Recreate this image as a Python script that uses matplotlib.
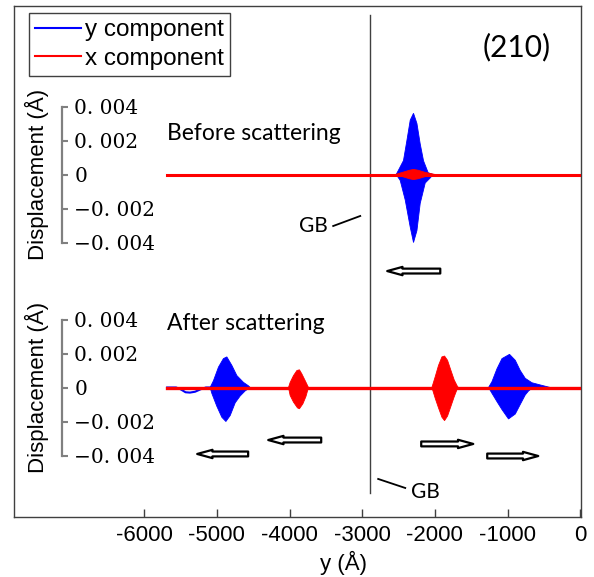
import numpy as np
import matplotlib
matplotlib.use("Agg")
import matplotlib.pyplot as plt
from matplotlib.patches import FancyArrowPatch
from matplotlib.lines import Line2D

plt.rcParams['font.family'] = ['Liberation Sans', 'DejaVu Sans']

# ---- data (y in Angstrom, displacement in Angstrom) ----
x_start, x_end = -5683, -20
gb_pos = -2890

# before scattering: y component packet
top_blue_x = [-2532, -2432, -2385, -2339, -2294, -2247, -2202, -2156, -2092, -2023]
top_blue_up = [0, 0.00082, 0.0020, 0.0032, 0.0036, 0.0030, 0.0018, 0.0008, 0.0001, 0]
top_blue_lo_x = [-2532, -2477, -2408, -2339, -2294, -2247, -2202, -2133, -2064, -2023]
top_blue_lo = [0, -0.00035, -0.0015, -0.0031, -0.0040, -0.0033, -0.0017, -0.0005, -0.0002, 0]
# before scattering: x component packet (small)
top_red_x = [-2546, -2450, -2350, -2294, -2230, -2130, -1995]
top_red_up = [0, 0.00012, 0.00025, 0.0003, 0.00025, 0.00012, 0]

# after scattering: reflected y packet
b1_x = [-5092, -5046, -4977, -4909, -4862, -4793, -4724, -4633, -4565, -4541]
b1_up = [0, 0.0004, 0.0012, 0.0017, 0.0018, 0.0013, 0.0007, 0.0003, 0.0001, 0]
b1_lo_x = [-5092, -5068, -5000, -4931, -4875, -4816, -4747, -4679, -4610, -4541]
b1_lo = [0, -0.00035, -0.0011, -0.00175, -0.0020, -0.00165, -0.0009, -0.0005, -0.0002, 0]
# small blue dip left of it
dip_x = [-5683, -5560, -5500, -5430, -5370, -5300, -5220, -5150, -5092]
dip_y = [0, 0, -0.0001, -0.00028, -0.0003, -0.00025, -0.0001, 0, 0]
# reflected x packet
r1_x = [-4014, -3991, -3945, -3898, -3863, -3830, -3784, -3739]
r1_up = [0, 0.0003, 0.0007, 0.0010, 0.00104, 0.0008, 0.0004, 0]
r1_lo_x = [-4014, -3991, -3945, -3890, -3863, -3816, -3774, -3739]
r1_lo = [0, -0.00047, -0.00086, -0.0012, -0.00125, -0.00096, -0.00053, 0]
# transmitted x packet
r2_x = [-2041, -1995, -1950, -1903, -1867, -1826, -1779, -1734, -1688, -1675]
r2_up = [0, 0.00064, 0.0013, 0.0018, 0.00185, 0.0016, 0.0010, 0.00044, 0.00005, 0]
r2_lo = [0, -0.00064, -0.0012, -0.00175, -0.00195, -0.00168, -0.0011, -0.00054, -0.00003, 0]
# transmitted y packet
b2_x = [-1262, -1215, -1146, -1077, -973, -894, -826, -757, -665, -550, -413]
b2_up = [0, 0.00034, 0.0011, 0.0017, 0.00195, 0.0016, 0.0010, 0.00054, 0.00028, 0.00015, 0]
b2_lo_x = [-1262, -1215, -1146, -1077, -987, -894, -826, -757, -711, -650]
b2_lo = [0, -0.00034, -0.00083, -0.0013, -0.00185, -0.00156, -0.0010, -0.00044, -0.0002, 0]

xticks = [-6000, -5000, -4000, -3000, -2000, -1000, 0]
yticks = [0.004, 0.002, 0, -0.002, -0.004]
ytick_labels = ['0. 004', '0. 002', '0', '\u22120. 002', '\u22120. 004']

BLUE = '#0000ff'
RED = '#ff0000'

W, H = 594, 577
fig = plt.figure(figsize=(W / 100, H / 100), dpi=100)

L, R, T, B = 14, 581, 6, 517
xlim = (-7790, 10)
k = 0.004 / 68  # displacement per pixel


def px_ax(zero_px):
    return ((zero_px - B) * k, (zero_px - T) * k)


main = fig.add_axes([L / W, 1 - B / H, (R - L) / W, (B - T) / H])
main.set_xlim(*xlim)
main.set_ylim(0, 1)
main.set_yticks([])
main.set_xticks(xticks)
main.set_xticklabels([str(t) for t in xticks], fontsize=16)
main.tick_params(axis='x', direction='in', length=6, width=1, color='#404040', pad=6)
for s in main.spines.values():
    s.set_color('#404040')
    s.set_linewidth(1.0)
main.set_xlabel('y (Å)', fontsize=16)
main.xaxis.set_label_coords((343 - L) / (R - L), -(563 - B) / (B - T))
main.xaxis.label.set_va('center')
main.axvline(gb_pos, ymin=(B - 493) / (B - T), ymax=(B - 15) / (B - T), color='#404040', lw=1.0)
main.text(0.886, 0.92, '(210)', transform=main.transAxes, fontsize=21.5, family='Lato',
          ha='center', va='center')


def sub_axes(zero_px):
    ax = fig.add_axes(main.get_position(), label=f'sub{zero_px}')
    ax.patch.set_alpha(0)
    ax.set_xlim(*xlim)
    ax.set_ylim(*px_ax(zero_px))
    for name in ['left', 'top', 'bottom']:
        ax.spines[name].set_visible(False)
    ax.spines['right'].set_position(('axes', (62 - L) / (R - L)))
    ax.spines['right'].set_bounds(-0.004, 0.004)
    ax.spines['right'].set_color('#808080')
    ax.spines['right'].set_linewidth(1.6)
    ax.yaxis.set_ticks_position('right')
    ax.set_yticks(yticks)
    ax.set_yticklabels(ytick_labels, family='DejaVu Serif', fontsize=14.5)
    ax.tick_params(axis='y', direction='out', length=4, width=1.5, color='#808080', pad=5)
    ax.set_xticks([])
    return ax


top = sub_axes(174.5)
bot = sub_axes(387.5)

fig.text(37 / W, 1 - 174 / H, 'Displacement (Å)', rotation=90, fontsize=16, ha='center', va='center')
fig.text(37 / W, 1 - 387 / H, 'Displacement (Å)', rotation=90, fontsize=16, ha='center', va='center')

# before scattering
top.plot([x_start, x_end], [0, 0], color=BLUE, lw=2)
top.fill(top_blue_x + top_blue_lo_x[::-1], top_blue_up + top_blue_lo[::-1], color=BLUE, lw=0.6)
top.plot([x_start, -5], [0, 0], color=RED, lw=2.2)
top.fill(top_red_x + top_red_x[::-1], top_red_up + [-v for v in top_red_up[::-1]], color=RED, lw=0.6)

# after scattering
bot.plot(dip_x, dip_y, color=BLUE, lw=1.5)
bot.plot([x_start, x_end], [0, 0], color=BLUE, lw=2)
bot.fill(b1_x + b1_lo_x[::-1], b1_up + b1_lo[::-1], color=BLUE, lw=0.6)
bot.fill(b2_x + b2_lo_x[::-1], b2_up + b2_lo[::-1], color=BLUE, lw=0.6)
bot.plot([x_start, 0], [0, 0], color=RED, lw=2.4)
bot.fill(r1_x + r1_lo_x[::-1], r1_up + r1_lo[::-1], color=RED, lw=0.6)
bot.fill(r2_x + r2_x[::-1], r2_up + r2_lo[::-1], color=RED, lw=0.6)

top.text(-5683, 0.00244, 'Before scattering', family='Lato', fontsize=16.5, va='center', ha='left')
bot.text(-5683, 0.00379, 'After scattering', family='Lato', fontsize=16.5, va='center', ha='left')

# GB labels
top.text(-3674, -0.00303, 'GB', family='Lato', fontsize=15, va='center', ha='center')
top.plot([-3399, -3027], [-0.00303, -0.00244], color='black', lw=1.3)
bot.text(-2133, -0.00615, 'GB', family='Lato', fontsize=15, va='center', ha='center')
bot.plot([-2780, -2408], [-0.00538, -0.00591], color='black', lw=1.3)


def arrow(ax, x0, x1, y):
    a = FancyArrowPatch((x0, y), (x1, y), arrowstyle='simple,head_length=11,head_width=6,tail_width=3.5',
                        mutation_scale=1, fc='white', ec='black', lw=1.6, shrinkA=0, shrinkB=0)
    ax.add_patch(a)


arrow(top, -1926, -2656, -0.00568)
arrow(bot, -4569, -5270, -0.00391)
arrow(bot, -3564, -4293, -0.00309)
arrow(bot, -2188, -1472, -0.00332)
arrow(bot, -1280, -578, -0.00403)

handles = [Line2D([], [], color=BLUE, lw=1.5), Line2D([], [], color=RED, lw=1.5)]
leg = fig.legend(handles, ['y component', 'x component'], loc='upper left',
                 bbox_to_anchor=(29 / W, 1 - 13 / H), borderaxespad=0, fontsize=17.5,
                 handlelength=1.9, handletextpad=0.15, borderpad=0.25, labelspacing=0.28,
                 fancybox=False, framealpha=1, edgecolor='#404040')
leg.get_frame().set_linewidth(1.0)

fig.savefig('out.png', dpi=100)
